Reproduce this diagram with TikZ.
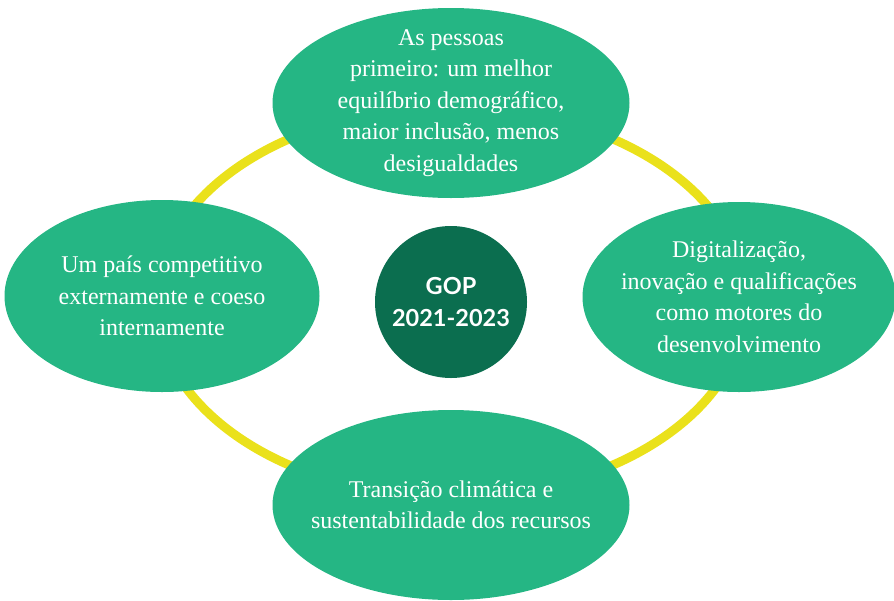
\documentclass[tikz,border=0pt]{standalone}
\usepackage{fontspec}
\setmainfont{Liberation Serif}
\newfontfamily\gopfont{Lato}
\usetikzlibrary{shapes.geometric}
\definecolor{leafC}{HTML}{25B684}
\definecolor{pineC}{HTML}{0B6E4F}
\definecolor{ringC}{HTML}{EAE11B}
\tikzset{
  axis/.style={ellipse,fill=leafC,inner sep=-30pt,text=white,align=center,
    font=\fontsize{24}{31.5}\selectfont},
  hub/.style={circle,fill=pineC,inner sep=0pt,minimum size=152pt,text=white,align=center,
    font=\gopfont\bfseries\fontsize{23.5}{32}\selectfont},
  ring/.style={draw=ringC,line width=9pt},
}

\begin{document}
\begin{tikzpicture}[x=1pt,y=-1pt]
\useasboundingbox (0,0) rectangle (894,600);

% ---------- ring behind the four axes ----------
\coordinate (mid) at (451,302);
\draw[ring] (mid) ellipse [x radius=295, y radius=195];

% ---------- centre ----------
\node[hub] (gop) at (mid) {GOP\\2021-2023};

% ---------- the four axes ----------
\node[axis,minimum width=357pt,minimum height=190pt] (people) at (451,103)
  {As pessoas\\primeiro: um melhor\\equilíbrio demográfico,\\maior inclusão, menos\\desigualdades};
\node[axis,minimum width=315pt,minimum height=192pt] (country) at (162,296)
  {Um país competitivo\\externamente e coeso\\internamente};
\node[axis,minimum width=313pt,minimum height=190pt] (digital) at (739,297)
  {Digitalização,\\inovação e qualificações\\como motores do\\desenvolvimento};
\node[axis,minimum width=357pt,minimum height=190pt] (climate) at (451,505)
  {Transição climática e\\sustentabilidade dos recursos};

\end{tikzpicture}
\end{document}
